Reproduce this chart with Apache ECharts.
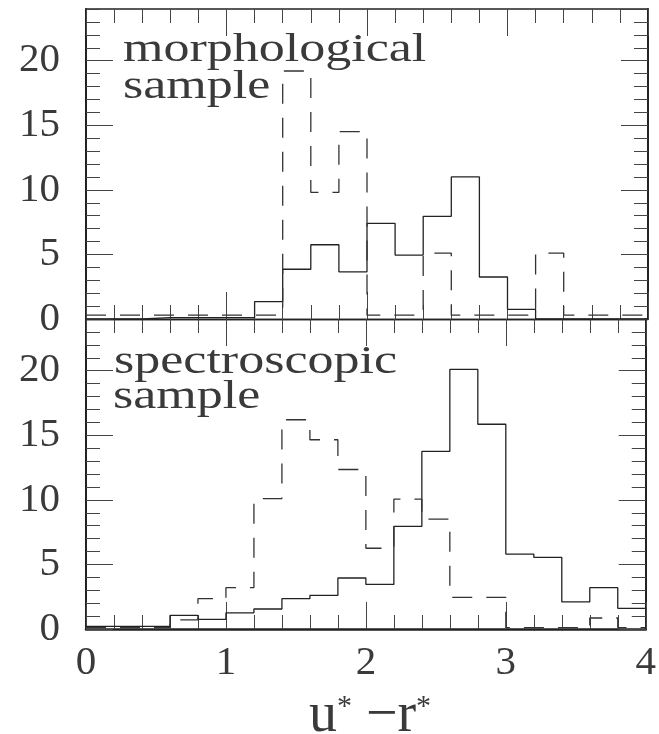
<!DOCTYPE html>
<html><head><meta charset="utf-8">
<script src="https://cdn.jsdelivr.net/npm/echarts@6/dist/echarts.min.js"></script>
<style>html,body{margin:0;padding:0;background:#fff}#c{width:659px;height:734px}</style>
</head><body><div id="c"></div>
<script>
// bin edges of u*-r* histogram (width 0.2)
const binEdges = [0.0,0.2,0.4,0.6,0.8,1.0,1.2,1.4,1.6,1.8,2.0,2.2,2.4,2.6,2.8,3.0,3.2,3.4,3.6,3.8,4.0];
// morphological sample
const morphSolid  = [0, 0, 0.1, 0.1, 0.1, 0.1, 1.35, 3.85, 5.75, 3.65, 7.4, 4.95, 7.95, 11.0, 3.25, 0.75, 0, 0, 0, 0];
const morphDashed = [0.3, 0.3, 0.3, 0.3, 0.3, 0.3, 0.3, 19.2, 9.8, 14.5, 0.3, 0.3, 5.1, 0.3, 0.3, 0.3, 5.1, 0.3, 0.3, 0.3];
// spectroscopic sample
const specSolid   = [0.2, 0.2, 0.2, 1.05, 0.75, 1.25, 1.55, 2.35, 2.6, 3.95, 3.45, 7.95, 13.75, 20.1, 15.85, 5.8, 5.55, 2.1, 3.2, 1.6];
const specDashed  = [0.1, 0.1, 0.1, 0.7, 2.35, 3.2, 10.1, 16.2, 14.65, 12.35, 6.25, 10.05, 8.5, 2.45, 2.45, 0.1, 0.1, 0.1, 0.85, 0.1];
const panelLabels = [["morphological", "sample"], ["spectroscopic", "sample"]];

function stepData(vals) {
  const d = vals.map((v, i) => [binEdges[i], v]);
  d.push([binEdges[binEdges.length - 1], vals[vals.length - 1]]);
  return d;
}

const FONT = 'Liberation Serif';
const TICKC = '#444';
const LINEC = '#222';
const TEXTC = '#3a3a3a';

function xAx(g, pos, showLabel, lw) {
  return {
    type: 'value', gridIndex: g, position: pos, min: 0, max: 4, interval: 1,
    axisLine: { show: true, onZero: false, lineStyle: { color: LINEC, width: lw } },
    axisTick: { show: true, inside: true, length: 27, lineStyle: { color: TICKC, width: 1 } },
    minorTick: { show: true, splitNumber: 5, length: 14, lineStyle: { color: TICKC, width: 1 } },
    splitLine: { show: false }, minorSplitLine: { show: false },
    axisLabel: { show: showLabel, margin: 14, fontFamily: FONT, fontSize: 41, color: TEXTC }
  };
}
function yAx(g, pos, major, showLabel, lw) {
  return {
    type: 'value', gridIndex: g, position: pos, min: 0, max: 24, interval: major ? 5 : 1,
    axisLine: { show: major, onZero: false, lineStyle: { color: LINEC, width: lw } },
    axisTick: { show: true, inside: true, length: major ? 27 : 14, lineStyle: { color: TICKC, width: 1 } },
    splitLine: { show: false },
    axisLabel: { show: showLabel, showMaxLabel: false, margin: 26, fontFamily: FONT, fontSize: 41, color: TEXTC }
  };
}

const solidStyle = { color: LINEC, width: 1.3 };
const dashStyle = { color: '#333', width: 1.3, type: [20, 14] };
function ser(xi, yi, vals, style) {
  return { type: 'line', xAxisIndex: xi, yAxisIndex: yi, data: stepData(vals), step: 'end',
    symbol: 'none', lineStyle: style, animation: false, silent: true, z: 3 };
}

function label(txt, x, y) {
  return { type: 'text', x: x, y: y, scaleX: 1.3, z: 10,
    style: { text: txt, fontFamily: FONT, fontSize: 40, fill: TEXTC, align: 'left', verticalAlign: 'middle' } };
}

const chart = echarts.init(document.getElementById('c'), null, { renderer: 'canvas' });
chart.setOption({
  animation: false,
  backgroundColor: '#fff',
  grid: [
    { left: 86, top: 9, width: 562, height: 310 },
    { left: 86, top: 319, width: 562, height: 310 }
  ],
  xAxis: [
    xAx(0, 'bottom', false, 1.3),
    xAx(0, 'top', false, 1.5),
    xAx(1, 'top', false, 1.3),
    xAx(1, 'bottom', true, 2.5)
  ],
  yAxis: [
    yAx(0, 'left', true, true, 2),
    yAx(0, 'left', false, false, 2),
    yAx(0, 'right', true, false, 2),
    yAx(0, 'right', false, false, 2),
    yAx(1, 'left', true, true, 2),
    yAx(1, 'left', false, false, 2),
    yAx(1, 'right', true, false, 2),
    yAx(1, 'right', false, false, 2)
  ],
  series: [
    ser(0, 0, morphSolid, solidStyle),
    ser(0, 0, morphDashed, dashStyle),
    ser(3, 4, specSolid, solidStyle),
    ser(3, 4, specDashed, dashStyle)
  ],
  graphic: [
    label(panelLabels[0][0], 123, 50),
    label(panelLabels[0][1], 123, 87),
    label(panelLabels[1][0], 114, 362),
    label(panelLabels[1][1], 113, 397),
    { type: 'text', x: 370, y: 744, z: 10,
      style: { text: '{m|u}{s|*}{m| −r}{s|*}', align: 'center', verticalAlign: 'bottom',
        rich: {
          m: { fontFamily: FONT, fontSize: 56, fill: TEXTC },
          s: { fontFamily: FONT, fontSize: 30, fill: TEXTC, verticalAlign: 'top', padding: [4, 0, 0, 0] }
        } } }
  ]
});
</script>
</body></html>
